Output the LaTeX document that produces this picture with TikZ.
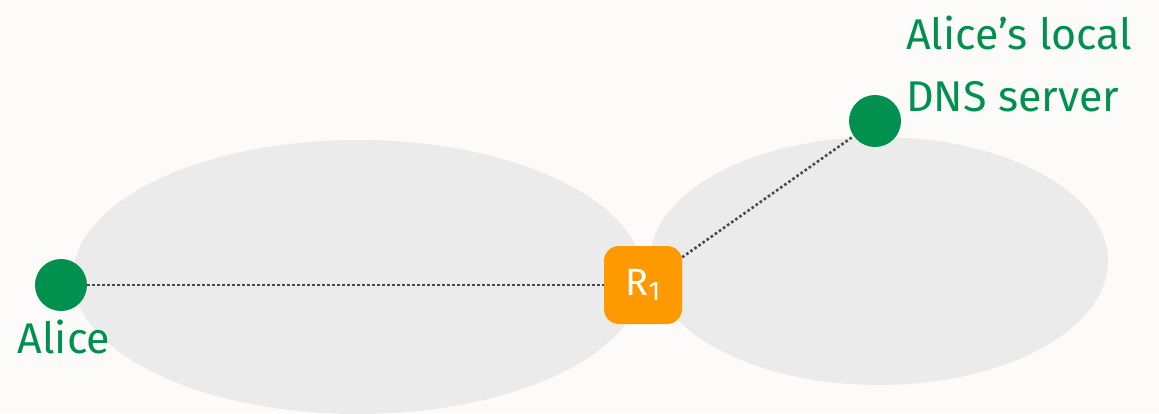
\documentclass[tikz,border=0pt]{standalone}
\usepackage{fontspec}
\setmainfont{Fira Sans}
\definecolor{bgc}{HTML}{FDFBFA}
\definecolor{cloud}{HTML}{EBEBEB}
\definecolor{grn}{HTML}{00914F}
\definecolor{org}{HTML}{FF9900}
\definecolor{dotc}{HTML}{4A4A4A}
\begin{document}
\begin{tikzpicture}[x=1pt,y=-1pt,
  host/.style={circle,fill=grn,minimum size=52pt,inner sep=0pt},
  router/.style={rectangle,rounded corners=15pt,fill=org,minimum size=78pt,inner sep=0pt,text=white,font=\fontsize{38}{40}\selectfont},
  lbl/.style={text=grn,font=\fontsize{43}{62}\selectfont,inner sep=0pt},
  link/.style={draw=dotc,line width=2.6pt,dash pattern=on 2.6pt off 2.4pt}]
\fill[bgc] (0,0) rectangle (1159,413);
\useasboundingbox (0,0) rectangle (1159,413);
\fill[cloud] (358,277) ellipse [x radius=285, y radius=137];
\fill[cloud] (879,261) ellipse [x radius=229, y radius=124];
\node[host] (alice) at (61,285) {};
\node[host] (dns) at (875,121) {};
\node[router] (r1) at (643,285) {R\raisebox{-0.22ex}{\fontsize{27}{27}\selectfont 1}};
\draw[link] (alice) -- (r1);
\draw[link] (r1) -- (dns);
\node[lbl,anchor=base] (alicelbl) at (64,353) {Alice};
\node[lbl,anchor=base west,align=left] (dnslbl) at (906,111) {Alice’s local\\DNS server};
\end{tikzpicture}
\end{document}
